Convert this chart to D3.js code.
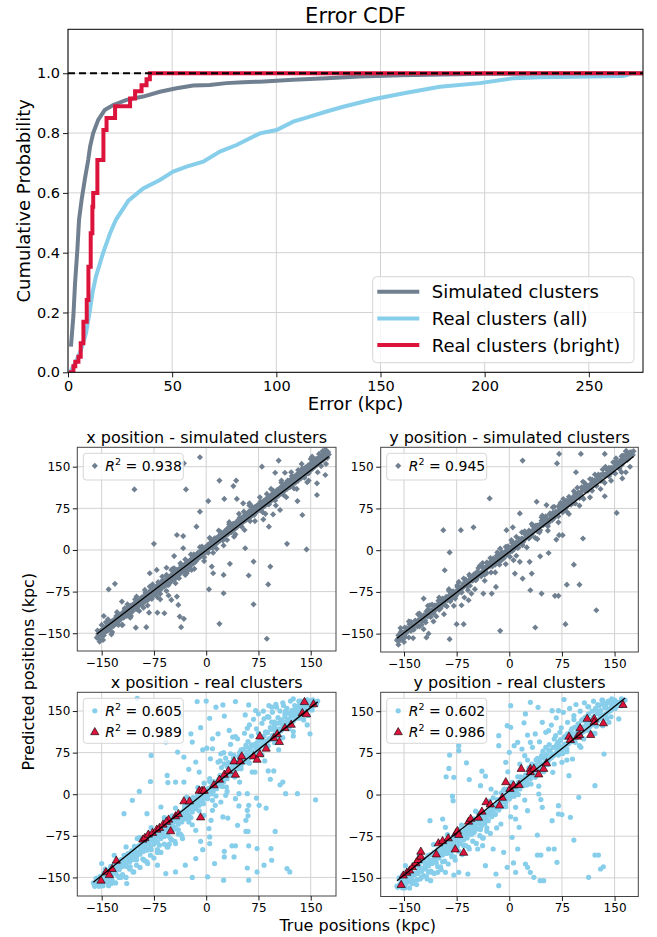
<!DOCTYPE html>
<html>
<head>
<meta charset="utf-8">
<script src="https://cdn.jsdelivr.net/npm/d3@7"></script>
<style>
body { margin: 0; background: #fff; }
text { font-family: "DejaVu Sans", sans-serif; fill: #000; }
</style>
</head>
<body>
<svg id="fig" width="657" height="937"></svg>
<script>
// ---- data ----
const cdfTicksX = [0, 50, 100, 150, 200, 250];
const cdfTicksY = [0, 0.2, 0.4, 0.6, 0.8, 1.0];
const seriesNames = ["Simulated clusters", "Real clusters (all)", "Real clusters (bright)"];

// [error kpc, cumulative probability]
const simCdf = [[1.4, 0.086], [2.6, 0.19], [3.4, 0.30], [4.5, 0.41], [5.3, 0.51], [6.6, 0.58],
  [8.2, 0.65], [9.7, 0.71], [10.6, 0.755], [12.1, 0.80], [14.5, 0.844], [17.6, 0.877],
  [21.7, 0.894], [28.1, 0.911], [36.1, 0.922], [44.1, 0.938], [52.1, 0.95], [60.1, 0.959],
  [68, 0.961], [76, 0.967], [84, 0.97], [92, 0.972], [100, 0.975], [108, 0.978], [124, 0.983],
  [140, 0.989], [160, 0.993], [180, 0.996], [200, 0.998], [230, 0.999], [255, 1.0], [276, 1.0]];
const allCdf = [[1, 0], [3.4, 0.03], [6, 0.07], [8.6, 0.13], [10.6, 0.21], [11.7, 0.264],
  [13.4, 0.32], [16.9, 0.40], [20.2, 0.465], [23, 0.51], [29, 0.574], [36.1, 0.615],
  [44.1, 0.643], [50.5, 0.671], [56.9, 0.688], [64.9, 0.704], [72.9, 0.738], [80.9, 0.76],
  [92.1, 0.799], [100.1, 0.81], [108.1, 0.838], [116.1, 0.855], [124.1, 0.872], [132.1, 0.888],
  [146.5, 0.913], [162.5, 0.935], [178.5, 0.955], [197.7, 0.967], [213.7, 0.983], [226.5, 0.987],
  [266.5, 0.991], [271, 1.0], [276, 1.0]];
const brightCdf = [[0.5, 0], [2.6, 0.02], [3.5, 0.035], [5, 0.052], [6.1, 0.097], [7.4, 0.169],
  [9, 0.242], [9.8, 0.353], [10.9, 0.465], [11.7, 0.554], [12.1, 0.60], [14.1, 0.71], [17, 0.81],
  [18.5, 0.85], [22.6, 0.89], [29.8, 0.916], [32.2, 0.94], [35.3, 0.96], [37.7, 0.98],
  [39.3, 1.0], [276, 1.0]];

const posTicks = [-150, -75, 0, 75, 150];

// [true, predicted] kpc
const simXBand = [[-157,-158],[-155,-151],[-154,-160],[-152,-146],[-150,-154],[-149,-143],[-147,-150],[-145,-139],[-144,-147],[-142,-136],[-140,-144],[-139,-131],[-137,-140],[-135,-128],[-133,-137],[-131,-124],[-130,-133],[-128,-119],[-126,-129],[-124,-117],[-122,-124],[-120,-113],[-118,-121],[-117,-108],[-115,-117],[-112,-105],[-110,-114],[-108,-100],[-106,-111],[-104,-97],[-101,-106],[-99,-93],[-97,-101],[-95,-89],[-93,-98],[-91,-85],[-89,-94],[-87,-80],[-85,-91],[-83,-77],[-81,-87],[-79,-72],[-77,-83],[-75,-70],[-73,-79],[-71,-65],[-69,-75],[-67,-62],[-65,-71],[-62,-57],[-60,-66],[-58,-53],[-56,-63],[-54,-49],[-52,-59],[-50,-45],[-48,-54],[-46,-41],[-44,-51],[-42,-37],[-40,-46],[-38,-33],[-36,-41],[-34,-29],[-32,-38],[-30,-25],[-28,-33],[-26,-21],[-24,-30],[-22,-17],[-20,-25],[-18,-12],[-16,-21],[-14,-9],[-12,-16],[-10,-4],[-8,-12],[-6,0],[-4,-8],[-2,4],[0,-3],[2,9],[4,2],[6,13],[8,5],[10,17],[12,9],[14,21],[16,14],[18,25],[20,17],[22,30],[24,21],[26,33],[28,26],[30,38],[32,29],[34,42],[36,33],[38,46],[40,37],[42,49],[44,41],[46,54],[48,45],[50,57],[52,49],[54,61],[56,53],[58,65],[60,56],[62,70],[64,60],[66,73],[68,64],[70,77],[72,68],[74,81],[76,72],[78,84],[80,75],[82,88],[84,79],[86,92],[88,83],[90,96],[92,87],[94,100],[96,91],[98,104],[100,94],[102,108],[104,98],[106,112],[108,102],[110,116],[112,106],[114,120],[116,110],[118,124],[120,114],[122,128],[124,118],[126,132],[128,121],[130,136],[132,125],[134,140],[136,129],[138,144],[140,133],[142,148],[144,137],[146,152],[148,141],[150,156],[152,146],[154,160],[156,150],[158,164],[160,154],[162,167],[164,158],[166,171],[168,162],[170,174],[172,167],[174,177],[176,172],
  [-150,-135],[-148,-162],[-141,-125],[-136,-152],[-128,-112],[-121,-135],[-113,-98],[-109,-122],[-100,-84],[-96,-110],[-88,-72],[-84,-100],[-77,-62],[-70,-85],[-63,-48],[-57,-74],[-50,-36],[-44,-60],[-37,-24],[-30,-45],[-22,-8],[-17,-34],[-9,5],[-3,-20],[5,22],[10,-5],[18,35],[25,8],[33,50],[40,24],[47,65],[55,36],[62,80],[70,52],[77,95],[85,65],[93,110],[100,80],[108,125],[115,95],[122,140],[130,110],[137,155],[145,122],[152,168],[160,140],[167,178],[172,155]];
const simXCore = [[-155,-155],[-152,-150],[-149,-151],[-146,-145],[-143,-146],[-140,-137],[-137,-138],[-134,-132],[-131,-131],[-128,-130],[-125,-124],[-122,-119],[-119,-122],[-116,-116],[-113,-111],[-110,-111],[-107,-104],[-104,-104],[-101,-103],[-98,-97],[-95,-92],[-92,-95],[-89,-89],[-86,-84],[-83,-84],[-80,-77],[-77,-77],[-74,-76],[-71,-70],[-68,-65],[-65,-68],[-62,-62],[-59,-57],[-56,-57],[-53,-50],[-50,-50],[-47,-49],[-44,-43],[-41,-38],[-38,-41],[-35,-35],[-32,-30],[-29,-30],[-26,-23],[-23,-23],[-20,-22],[-17,-16],[-14,-11],[-11,-14],[-8,-8],[-5,-3],[-2,-3],[1,4],[4,4],[7,5],[10,11],[13,16],[16,13],[19,19],[22,24],[25,24],[28,31],[31,31],[34,32],[37,38],[40,43],[43,40],[46,46],[49,51],[52,51],[55,58],[58,58],[61,59],[64,65],[67,70],[70,67],[73,73],[76,78],[79,78],[82,85],[85,85],[88,86],[91,92],[94,97],[97,94],[100,100],[103,105],[106,105],[109,112],[112,112],[115,113],[118,119],[121,124],[124,121],[127,127],[130,132],[133,132],[136,139],[139,139],[142,140],[145,146],[148,151],[151,148],[154,154],[157,159],[160,159],[163,166],[166,166],[169,167],[172,173],[175,176]];
const simXSpread = [[-156,-145],[-153,-165],[-150,-146],[-147,-154],[-144,-130],[-141,-144],[-138,-130],[-135,-148],[-132,-130],[-129,-119],[-126,-135],[-123,-117],[-120,-135],[-117,-105],[-114,-119],[-111,-102],[-108,-119],[-105,-102],[-102,-89],[-99,-107],[-96,-97],[-93,-86],[-90,-104],[-87,-77],[-84,-90],[-81,-66],[-78,-88],[-75,-70],[-72,-74],[-69,-58],[-66,-79],[-63,-55],[-60,-64],[-57,-45],[-54,-63],[-51,-50],[-48,-34],[-45,-52],[-42,-36],[-39,-51],[-36,-27],[-33,-36],[-30,-17],[-27,-38],[-24,-20],[-21,-36],[-18,-8],[-15,-21],[-12,-5],[-9,-10],[-6,6],[-3,-13],[0,3],[3,-5],[6,20],[9,4],[12,21],[15,2],[18,20],[21,32],[24,17],[27,33],[30,18],[33,46],[36,32],[39,47],[42,28],[45,46],[48,58],[51,42],[54,69],[57,54],[60,65],[63,52],[66,78],[69,63],[72,79],[75,73],[78,87],[81,68],[84,88],[87,101],[90,82],[93,92],[96,107],[99,89],[102,108],[105,100],[108,121],[111,99],[114,117],[117,125],[120,113],[123,133],[126,111],[129,131],[132,144],[135,131],[138,147],[141,130],[144,149],[147,138],[150,164],[153,147],[156,163],[159,156],[162,173],[165,151],[168,169],[171,181],[174,166]];
const simXOut = [[-9,167],[-32,156],[-103,109],[-29,109],[19,125],[43,125],[39,115],[3,88],[26,92],[44,92],[53,84],[62,84],[-9,69],[-14,42],[-42,27],[-33,25],[-75,11],[-46,-11],[-33,3],[80,150],[99,139],[104,161],[113,139],[147,125],[159,120],[171,135],[159,99],[131,88],[96,64],[106,72],[82,55],[90,42],[138,63],[116,11],[144,1],[56,3],[68,-21],[61,-46],[92,-30],[34,-25],[25,-45],[4,-71],[25,-78],[19,-133],[68,-98],[89,-62],[87,-160],[-140,-71],[-131,-61],[-121,-93],[-147,-119],[-101,-140],[-86,-139],[-82,-113],[-70,-113],[-66,-89],[-60,-114],[-54,-82],[-50,-90],[-40,-99],[-38,-120],[-32,-124],[-36,-139],[-42,-84],[-49,-53],[-46,-33],[-28,-42],[-81,-42],[-71,-36],[-57,-32],[8,-30],[10,-42],[-18,-24]];

const simYBand = [[-160,-162],[-158,-153],[-156,-162],[-154,-146],[-152,-155],[-150,-148],[-148,-156],[-146,-140],[-144,-145],[-142,-133],[-140,-145],[-138,-135],[-136,-143],[-134,-127],[-132,-134],[-130,-126],[-128,-137],[-126,-120],[-124,-128],[-122,-121],[-120,-126],[-118,-110],[-116,-119],[-114,-109],[-112,-120],[-110,-108],[-108,-113],[-106,-99],[-104,-105],[-102,-98],[-100,-107],[-98,-89],[-96,-100],[-94,-92],[-92,-98],[-90,-84],[-88,-90],[-86,-82],[-84,-92],[-82,-75],[-80,-83],[-78,-77],[-76,-82],[-74,-66],[-72,-76],[-70,-67],[-68,-75],[-66,-61],[-64,-65],[-62,-53],[-60,-65],[-58,-56],[-56,-64],[-54,-48],[-52,-54],[-50,-46],[-48,-54],[-46,-39],[-44,-47],[-42,-41],[-40,-47],[-38,-30],[-36,-40],[-34,-31],[-32,-41],[-30,-25],[-28,-29],[-26,-20],[-24,-29],[-22,-20],[-20,-26],[-18,-10],[-16,-19],[-14,-10],[-12,-19],[-10,-4],[-8,-10],[-6,-3],[-4,-9],[-2,7],[0,-4],[2,4],[4,-2],[6,13],[8,7],[10,14],[12,4],[14,20],[16,13],[18,20],[20,15],[22,30],[24,22],[26,31],[28,21],[30,33],[32,28],[34,43],[36,35],[38,44],[40,34],[42,44],[44,36],[46,53],[48,45],[50,54],[52,47],[54,55],[56,49],[58,66],[60,58],[62,67],[64,58],[66,69],[68,64],[70,79],[72,71],[74,80],[76,68],[78,80],[80,75],[82,89],[84,81],[86,90],[88,82],[90,91],[92,85],[94,102],[96,94],[98,103],[100,96],[102,105],[104,95],[106,112],[108,107],[110,117],[112,107],[114,116],[116,110],[118,127],[120,117],[122,126],[124,116],[126,132],[128,126],[130,135],[132,125],[134,137],[136,132],[138,146],[140,139],[142,148],[144,138],[146,148],[148,140],[150,157],[152,149],[154,158],[156,151],[158,159],[160,153],[162,170],[164,162],[166,171],[168,162],[170,173],[172,168],[174,176],[176,171],
  [-155,-140],[-150,-165],[-143,-128],[-137,-158],[-130,-115],[-122,-142],[-116,-100],[-108,-128],[-100,-85],[-93,-115],[-86,-70],[-79,-100],[-72,-57],[-64,-85],[-57,-44],[-49,-70],[-42,-28],[-35,-55],[-27,-14],[-20,-40],[-13,3],[-5,-25],[3,18],[10,-10],[18,32],[25,5],[32,47],[40,20],[47,62],[55,35],[62,77],[70,50],[77,92],[85,65],[92,106],[100,80],[107,121],[115,95],[122,136],[130,110],[137,150],[145,125],[152,165],[160,140],[167,178],[172,150]];
const simYCore = [[-159,-160],[-156,-154],[-153,-155],[-150,-150],[-147,-149],[-144,-141],[-141,-142],[-138,-137],[-135,-135],[-132,-134],[-129,-127],[-126,-124],[-123,-125],[-120,-119],[-117,-114],[-114,-115],[-111,-108],[-108,-108],[-105,-107],[-102,-100],[-99,-96],[-96,-98],[-93,-93],[-90,-87],[-87,-88],[-84,-81],[-81,-81],[-78,-80],[-75,-73],[-72,-69],[-69,-71],[-66,-66],[-63,-60],[-60,-61],[-57,-54],[-54,-54],[-51,-53],[-48,-46],[-45,-42],[-42,-44],[-39,-39],[-36,-33],[-33,-34],[-30,-27],[-27,-27],[-24,-26],[-21,-19],[-18,-15],[-15,-17],[-12,-12],[-9,-6],[-6,-7],[-3,0],[0,0],[3,1],[6,8],[9,12],[12,10],[15,15],[18,21],[21,20],[24,27],[27,27],[30,28],[33,35],[36,39],[39,37],[42,42],[45,48],[48,47],[51,54],[54,54],[57,55],[60,62],[63,66],[66,64],[69,69],[72,75],[75,74],[78,81],[81,81],[84,82],[87,89],[90,93],[93,91],[96,96],[99,102],[102,101],[105,108],[108,108],[111,109],[114,116],[117,120],[120,118],[123,123],[126,129],[129,128],[132,135],[135,135],[138,136],[141,143],[144,147],[147,145],[150,150],[153,156],[156,155],[159,162],[162,162],[165,163],[168,170],[171,174],[174,172],[177,178]];
const simYSpread = [[-158,-170],[-155,-149],[-152,-160],[-149,-139],[-146,-145],[-143,-157],[-140,-129],[-137,-140],[-134,-127],[-131,-137],[-128,-114],[-125,-134],[-122,-117],[-119,-130],[-116,-107],[-113,-117],[-110,-98],[-107,-105],[-104,-119],[-101,-91],[-98,-105],[-95,-87],[-92,-89],[-89,-101],[-86,-73],[-83,-88],[-80,-74],[-77,-87],[-74,-63],[-71,-72],[-68,-76],[-65,-51],[-62,-58],[-59,-72],[-56,-47],[-53,-55],[-50,-43],[-47,-53],[-44,-32],[-41,-44],[-38,-23],[-35,-44],[-32,-22],[-29,-28],[-26,-40],[-23,-15],[-20,-24],[-17,-4],[-14,-26],[-11,-5],[-8,-15],[-5,6],[-2,0],[1,-12],[4,13],[7,2],[10,24],[13,5],[16,19],[19,9],[22,34],[25,24],[28,35],[31,25],[34,44],[37,22],[40,44],[43,32],[46,59],[49,46],[52,61],[55,43],[58,64],[61,54],[64,78],[67,68],[70,61],[73,85],[76,72],[79,87],[82,69],[85,96],[88,86],[91,96],[94,84],[97,112],[100,94],[103,113],[106,92],[109,116],[112,111],[115,128],[118,107],[121,124],[124,116],[127,136],[130,125],[133,145],[136,121],[139,145],[142,133],[145,147],[148,158],[151,138],[154,157],[157,146],[160,169],[163,158],[166,178],[169,163],[172,176],[175,172]];
const simYOut = [[19,161],[71,173],[68,156],[102,173],[136,173],[95,140],[105,123],[161,129],[166,140],[136,97],[153,67],[105,21],[-28,93],[15,66],[39,87],[53,81],[-4,36],[5,41],[-94,36],[-69,36],[-51,41],[-85,-4],[-92,-36],[6,-18],[15,-21],[29,-21],[44,-11],[56,-5],[71,27],[76,27],[67,19],[32,-42],[8,-42],[19,-51],[30,-72],[46,-78],[70,-82],[65,-82],[82,-62],[100,-62],[92,-26],[124,-108],[80,-133],[37,-139],[-13,-145],[-85,-160],[-118,-157],[-115,-150],[-75,-133],[-65,-133],[-122,-87],[-113,-99],[-68,-99],[-58,-90],[-54,-78],[-82,-87],[-37,-78],[-25,-78],[-19,-66],[-56,-54]];

const realXBand = [[-162,-160],[-158,-152],[-155,-163],[-152,-148],[-150,-158],[-147,-142],[-145,-152],[-142,-138],[-140,-150],[-137,-130],[-135,-145],[-132,-127],[-130,-140],[-127,-121],[-125,-136],[-122,-118],[-120,-130],[-117,-112],[-115,-126],[-112,-107],[-110,-122],[-107,-102],[-105,-118],[-102,-97],[-100,-112],[-97,-93],[-95,-108],[-92,-88],[-90,-103],[-87,-84],[-85,-99],[-82,-79],[-80,-95],[-77,-75],[-75,-90],[-72,-70],[-70,-86],[-67,-66],[-65,-80],[-62,-60],[-60,-76],[-57,-56],[-55,-70],[-52,-50],[-50,-65],[-47,-44],[-45,-60],[-42,-40],[-40,-54],[-37,-34],[-35,-50],[-32,-29],[-30,-44],[-27,-22],[-25,-38],[-22,-18],[-20,-32],[-17,-11],[-15,-26],[-12,-6],[-10,-20],[-7,0],[-5,-12],[-2,5],[0,-6],[3,10],[5,0],[8,15],[10,5],[13,21],[15,10],[18,27],[20,16],[23,33],[25,22],[28,39],[30,28],[33,45],[35,34],[38,51],[40,40],[43,57],[45,46],[48,63],[50,52],[53,69],[55,58],[58,75],[60,63],[63,81],[65,70],[68,87],[70,76],[73,93],[75,82],[78,99],[80,88],[83,105],[85,94],[88,111],[90,100],[93,117],[95,106],[98,123],[100,112],[103,128],[105,118],[108,134],[110,124],[113,140],[115,130],[118,146],[120,136],[123,151],[125,142],[128,156],[130,148],[133,160],[135,152],[138,163],[140,156],[143,166],[145,160],[148,168],[150,162],[153,170],[156,165],[160,168],
  [-150,-125],[-140,-160],[-132,-110],[-123,-150],[-115,-95],[-104,-140],[-96,-78],[-88,-120],[-79,-60],[-70,-105],[-60,-42],[-53,-90],[-44,-25],[-37,-72],[-28,-5],[-20,-55],[-12,12],[-3,-38],[5,28],[13,-20],[22,48],[30,5],[39,65],[48,22],[57,88],[66,40],[75,110],[84,60],[94,130],[104,80],[114,150],[125,105],[136,168],[145,125]];
const realXCore = [[-160,-166],[-157,-160],[-154,-162],[-151,-155],[-148,-156],[-145,-148],[-142,-151],[-139,-143],[-136,-141],[-133,-142],[-130,-134],[-127,-131],[-124,-133],[-121,-126],[-118,-121],[-115,-124],[-112,-116],[-109,-117],[-106,-111],[-103,-108],[-100,-104],[-97,-105],[-94,-98],[-91,-96],[-88,-93],[-85,-89],[-82,-88],[-79,-83],[-76,-82],[-73,-77],[-70,-76],[-67,-71],[-64,-70],[-61,-65],[-58,-62],[-55,-61],[-52,-56],[-49,-54],[-46,-50],[-43,-49],[-40,-44],[-37,-41],[-34,-38],[-31,-35],[-28,-32],[-25,-28],[-22,-25],[-19,-21],[-16,-19],[-13,-14],[-10,-11],[-7,-9],[-4,-4],[-1,-2],[2,3],[5,6],[8,9],[11,14],[14,16],[17,21],[20,24],[23,28],[26,31],[29,35],[32,38],[35,42],[38,45],[41,48],[44,51],[47,54],[50,57],[53,61],[56,63],[59,67],[62,69],[65,73],[68,75],[71,79],[74,81],[77,84],[80,88],[83,90],[86,94],[89,96],[92,100],[95,102],[98,106],[101,108],[104,112],[107,114],[110,118],[113,120],[116,124],[119,126],[122,130],[125,132],[128,136],[131,138],[134,142],[137,144],[140,148],[143,150],[146,153],[149,156],[152,158],[155,161],[158,164]];
const realXSpread = [[-157,-151],[-154,-166],[-151,-154],[-148,-165],[-145,-135],[-142,-154],[-139,-137],[-136,-161],[-133,-138],[-130,-125],[-127,-147],[-124,-124],[-121,-149],[-118,-110],[-115,-130],[-112,-108],[-109,-131],[-106,-110],[-103,-94],[-100,-118],[-97,-106],[-94,-93],[-91,-117],[-88,-83],[-85,-101],[-82,-70],[-79,-100],[-76,-77],[-73,-84],[-70,-64],[-67,-92],[-64,-62],[-61,-74],[-58,-50],[-55,-75],[-52,-59],[-49,-39],[-46,-63],[-43,-43],[-40,-64],[-37,-33],[-34,-46],[-31,-22],[-28,-42],[-25,-20],[-22,-42],[-19,-6],[-16,-24],[-13,-4],[-10,-11],[-7,9],[-4,-17],[-1,3],[2,-8],[5,23],[8,1],[11,23],[14,-3],[17,20],[20,34],[23,14],[26,34],[29,13],[32,57],[35,38],[38,56],[41,31],[44,53],[47,68],[50,46],[53,81],[56,60],[59,74],[62,56],[65,89],[68,68],[71,88],[74,79],[77,97],[80,71],[83,96],[86,112],[89,87],[92,99],[95,117],[98,93],[101,117],[104,105],[107,132],[110,102],[113,125],[116,134],[119,118],[122,143],[125,113],[128,139],[131,155],[134,137],[137,157],[140,134],[143,158],[146,142],[149,168],[152,152],[155,166],[158,162]];
const realXCloud = [[20,60],[25,75],[30,50],[35,90],[40,70],[45,100],[50,80],[55,110],[60,95],[62,125],[65,105],[68,135],[70,90],[72,118],[75,145],[78,100],[80,128],[82,150],[85,112],[88,140],[90,160],[92,120],[95,148],[98,130],[100,162],[103,138],[106,150],[108,128],[110,165],[113,145],[116,155],[118,135],[121,168],[124,150],[127,160],[130,145],[133,168],[136,158],[140,165],[145,170],[28,65],[38,58],[48,75],[58,85],[66,88],
  [-150,-165],[-145,-158],[-140,-165],[-135,-155],[-130,-160],[-125,-150],[-120,-145],[-115,-150],[-110,-135],[-105,-140],[-100,-128],[-95,-132],[-90,-118],[-85,-122],[-80,-110],[-75,-115],[-70,-100],[-65,-105],[-60,-90],[-55,-95],[-50,-82],[-45,-85],[-40,-72],[-35,-75]];
const realXOut = [[-99,173],[-13,167],[-37,141],[-22,109],[-58,94],[-20,94],[-41,76],[-15,58],[-32,67],[-56,34],[-55,21],[-44,22],[-32,22],[-96,5],[-106,-11],[-65,-23],[-27,-20],[5,137],[14,157],[24,161],[42,167],[26,141],[17,109],[33,115],[38,103],[42,104],[9,100],[9,82],[21,73],[35,73],[6,64],[17,58],[26,55],[-8,120],[-5,80],[-10,40],[-25,45],[-3,20],[56,143],[61,161],[71,151],[59,119],[-118,-35],[-85,-35],[-79,70],[-80,23],[0,168],[1,83],
  [83,136],[90,139],[94,157],[101,157],[111,160],[125,172],[156,166],[149,109],
  [47,52],[59,58],[70,40],[89,42],[97,42],[92,27],[106,17],[110,22],[114,1],[131,1],[157,-10],[47,1],[59,1],[28,-2],[42,-8],[9,-11],[21,-14],[47,-21],[61,-20],[72,-7],[76,-20],[86,-25],[59,-29],[60,-39],[57,-47],[9,-29],[24,-41],[31,-43],[45,-56],[57,-67],[60,-67],[99,-67],[7,-47],[4,-62],[5,-77],[5,-89],[37,-93],[42,-93],[61,-93],[73,-98],[93,-98],[26,-103],[26,-113],[40,-113],[94,-119],[83,-128],[12,-125],[59,-133],[73,-140],[116,-134],[120,-140],[2,-149],[25,-155],[61,-155],[-25,-50],[-15,-65],[-34,-80],[-44,-89],[-56,-95],[-51,-80],[-99,-80],[-89,-95],[-84,-125],[-70,-128],[-58,-143],[-44,-140],[-30,-128],[-15,-116],[-114,-161],[-60,-43],[-10,-30],[-5,-100],[-20,-150],[-8,-85]];
const realXBright = [[-151,-156],[-144,-141],[-135,-135],[-129,-120],[-139,-146],[-91,-82],[-88,-79],[-83,-73],[-77,-70],[-71,-64],[-67,-61],[-62,-55],[-54,-46],[-57,-50],[-51,-67],[-44,-40],[-40,-36],[-32,-13],[-24,-13],[-10,6],[-6,6],[-3,6],[-8,-42],[11,16],[19,26],[26,35],[32,42],[42,35],[40,59],[49,59],[51,68],[68,68],[73,62],[77,72],[77,104],[86,82],[97,101],[102,108],[105,94],[113,119],[122,125],[138,146],[144,144],[141,166],[154,162]];

const realYBand = [[-160,-165],[-157,-150],[-155,-160],[-152,-145],[-150,-156],[-147,-140],[-145,-152],[-142,-136],[-140,-148],[-137,-131],[-135,-145],[-132,-127],[-130,-142],[-127,-122],[-125,-138],[-122,-117],[-120,-133],[-117,-113],[-115,-128],[-112,-108],[-110,-124],[-107,-104],[-105,-119],[-102,-99],[-100,-114],[-97,-95],[-95,-109],[-92,-90],[-90,-105],[-87,-86],[-85,-100],[-82,-81],[-80,-96],[-77,-77],[-75,-91],[-72,-72],[-70,-88],[-67,-68],[-65,-82],[-62,-63],[-60,-78],[-57,-58],[-55,-72],[-52,-53],[-50,-68],[-47,-47],[-45,-62],[-42,-42],[-40,-57],[-37,-37],[-35,-52],[-32,-31],[-30,-47],[-27,-25],[-25,-40],[-22,-20],[-20,-35],[-17,-14],[-15,-28],[-12,-8],[-10,-22],[-7,-2],[-5,-15],[-2,4],[0,-8],[3,10],[5,-2],[8,16],[10,4],[13,22],[15,10],[18,28],[20,16],[23,35],[25,22],[28,41],[30,28],[33,47],[35,34],[38,53],[40,40],[43,59],[45,47],[48,66],[50,53],[53,72],[55,60],[58,78],[60,66],[63,85],[65,72],[68,91],[70,79],[73,97],[75,85],[78,103],[80,91],[83,109],[85,97],[88,115],[90,104],[93,121],[95,110],[98,127],[100,116],[103,133],[105,122],[108,139],[110,128],[113,145],[115,134],[118,150],[120,140],[123,155],[125,146],[128,160],[130,151],[133,163],[136,156],[140,166],[145,162],[150,170],[155,166],[160,172],[165,170],
  [-148,-128],[-138,-160],[-128,-108],[-118,-148],[-108,-90],[-98,-130],[-88,-72],[-78,-112],[-68,-55],[-58,-95],[-48,-30],[-38,-78],[-28,-12],[-18,-60],[-8,8],[2,-40],[12,32],[22,-10],[32,55],[42,15],[52,85],[62,40],[72,112],[82,62],[92,135],[102,85],[112,158],[122,110],[132,170],[142,130],[150,160]];
const realYCore = [[-159,-167],[-156,-162],[-153,-163],[-150,-157],[-147,-157],[-144,-150],[-141,-152],[-138,-145],[-135,-142],[-132,-142],[-129,-136],[-126,-133],[-123,-134],[-120,-128],[-117,-123],[-114,-125],[-111,-118],[-108,-118],[-105,-113],[-102,-110],[-99,-106],[-96,-106],[-93,-100],[-90,-98],[-87,-95],[-84,-91],[-81,-89],[-78,-85],[-75,-84],[-72,-79],[-69,-78],[-66,-73],[-63,-72],[-60,-67],[-57,-64],[-54,-62],[-51,-58],[-48,-56],[-45,-52],[-42,-50],[-39,-46],[-36,-43],[-33,-40],[-30,-37],[-27,-33],[-24,-29],[-21,-26],[-18,-22],[-15,-20],[-12,-15],[-9,-12],[-6,-9],[-3,-5],[0,-2],[3,3],[6,7],[9,10],[12,15],[15,17],[18,22],[21,25],[24,29],[27,32],[30,36],[33,39],[36,43],[39,46],[42,49],[45,52],[48,55],[51,58],[54,62],[57,64],[60,68],[63,70],[66,74],[69,76],[72,80],[75,82],[78,85],[81,89],[84,91],[87,95],[90,97],[93,101],[96,103],[99,107],[102,109],[105,113],[108,115],[111,119],[114,121],[117,125],[120,127],[123,131],[126,133],[129,137],[132,139],[135,143],[138,145],[141,149],[144,151],[147,154],[150,157],[153,159],[156,162],[159,165],[162,168]];
const realYSpread = [[-158,-165],[-155,-152],[-152,-161],[-149,-168],[-146,-142],[-143,-157],[-140,-141],[-137,-155],[-134,-126],[-131,-153],[-128,-131],[-125,-149],[-122,-120],[-119,-134],[-116,-110],[-113,-120],[-110,-140],[-107,-104],[-104,-123],[-101,-101],[-98,-104],[-95,-121],[-92,-85],[-89,-106],[-86,-88],[-83,-106],[-80,-76],[-77,-88],[-74,-94],[-71,-63],[-68,-73],[-65,-92],[-62,-60],[-59,-72],[-56,-57],[-53,-71],[-50,-44],[-47,-61],[-44,-34],[-41,-63],[-38,-35],[-35,-44],[-32,-60],[-29,-19],[-26,-31],[-23,-6],[-20,-36],[-17,-9],[-14,-23],[-11,3],[-8,-5],[-5,-22],[-2,10],[1,-6],[4,22],[7,-3],[10,14],[13,0],[16,32],[19,18],[22,31],[25,17],[28,41],[31,19],[34,47],[37,31],[40,65],[43,47],[46,66],[49,41],[52,68],[55,54],[58,80],[61,72],[64,55],[67,87],[70,71],[73,99],[76,74],[79,91],[82,77],[85,109],[88,95],[91,108],[94,94],[97,118],[100,88],[103,116],[106,100],[109,134],[112,116],[115,135],[118,110],[121,137],[124,123],[127,149],[130,141],[133,124],[136,162],[139,137],[142,154],[145,140],[148,165],[151,155],[154,166],[157,164],[160,160]];
const realYCloud = [[15,55],[22,70],[28,48],[33,85],[38,62],[43,95],[48,78],[52,112],[57,90],[60,125],[64,100],[67,138],[70,95],[74,120],[77,148],[80,105],[83,130],[86,155],[89,118],[92,142],[95,162],[98,125],[101,150],[104,135],[107,165],[110,140],[113,158],[117,130],[120,168],[123,152],[126,162],[129,148],[133,170],[137,160],[141,168],[146,172],[26,62],[36,52],[46,70],[56,80],[65,84],
  [-152,-168],[-147,-160],[-142,-168],[-137,-158],[-132,-162],[-127,-152],[-122,-146],[-117,-152],[-112,-138],[-107,-142],[-102,-130],[-97,-135],[-92,-120],[-87,-125],[-82,-112],[-77,-118],[-72,-102],[-67,-108],[-62,-92],[-57,-98],[-52,-84],[-47,-88],[-42,-74],[-37,-78],[-32,-66],[-27,-70]];
const realYOut = [[-3,124],[-15,106],[-15,88],[-72,88],[-72,79],[-61,57],[-86,47],[-79,31],[-57,27],[-39,42],[-34,33],[-81,-3],[-80,-11],[-113,-47],[-95,-44],[-91,-59],[-19,3],[-41,16],[-26,10],[0,76],[-5,58],[-2,41],[-7,10],[-27,-29],[-12,-53],[-50,-44],[-90,32],[-85,71],[2,160],[30,166],[41,157],[61,151],[70,151],[78,171],[23,145],[21,129],[47,130],[56,115],[37,109],[2,121],[26,107],[12,94],[30,94],[18,82],[7,88],[66,106],[71,88],[82,82],
  [-38,-92],[-45,-98],[-23,-98],[-34,-128],[-59,-143],[-72,-140],[-79,-145],[-112,-155],[-115,-140],[-102,-140],[-91,-140],[-3,-131],[-19,-143],[-15,-164],[-8,-104],[90,64],[75,58],[85,34],[135,73],[156,136],[122,16],[99,-5],[42,1],[45,-9],[47,-23],[70,-20],[70,-35],[75,-36],[61,-47],[87,-41],[26,-29],[9,-23],[9,-44],[14,-59],[4,-77],[12,-98],[40,-73],[56,-98],[64,-98],[92,-82],[40,-109],[45,-109],[68,-122],[122,-109],[6,-123],[23,-125],[26,-131],[30,-140],[35,-149],[9,-140],[44,-155],[49,-155],[113,-149],[130,-134],[127,-109],[134,-130]];
const realYBright = [[-154,-163],[-151,-146],[-146,-141],[-142,-137],[-138,-131],[-133,-124],[-130,-118],[-126,-112],[-126,-103],[-104,-108],[-101,-88],[-95,-84],[-87,-79],[-76,-70],[-77,-99],[-74,-66],[-72,-73],[-65,-105],[-58,-49],[-55,-44],[-44,-42],[-39,-31],[-33,-14],[-27,-18],[-14,-20],[-10,-6],[-5,22],[1,10],[6,16],[14,17],[17,46],[30,46],[30,40],[35,46],[42,36],[49,46],[53,56],[85,104],[87,98],[97,104],[100,107],[101,119],[111,136],[116,107],[121,136],[121,130],[134,128],[162,161]];

const r2Sim = ["0.938", "0.945"];
const r2Real = [["0.605", "0.989"], ["0.602", "0.986"]];
const panelTitles = ["x position - simulated clusters", "y position - simulated clusters",
  "x position - real clusters", "y position - real clusters"];

// ---- drawing ----
const colors = { sim: "#708090", all: "#87ceeb", bright: "#dc143c" };
const gridColor = "#d2d2d2";
const svg = d3.select("#fig");

function styleAxis(g, size) {
    g.select(".domain").remove();
    g.selectAll(".tick line").attr("stroke", "#000").attr("stroke-width", 0.9);
    g.selectAll(".tick text").attr("font-size", size).attr("font-family", "DejaVu Sans");
}

// top: error CDF
{
    const x = d3.scaleLinear().domain([0, 276]).range([68, 643]);
    const y = d3.scaleLinear().domain([0, 1.147]).range([372.3, 29.3]);
    const g = svg.append("g");

    g.append("defs").append("clipPath").attr("id", "cdfclip")
        .append("rect").attr("x", 68).attr("y", 29.3).attr("width", 575).attr("height", 343);

    g.append("g").selectAll("line").data(cdfTicksX).join("line")
        .attr("x1", (d) => x(d)).attr("x2", (d) => x(d))
        .attr("y1", y(0)).attr("y2", 29.3)
        .attr("stroke", gridColor).attr("stroke-width", 1);
    g.append("g").selectAll("line").data(cdfTicksY).join("line")
        .attr("y1", (d) => y(d)).attr("y2", (d) => y(d))
        .attr("x1", 68).attr("x2", 643)
        .attr("stroke", gridColor).attr("stroke-width", 1);

    const line = d3.line().x((d) => x(d[0])).y((d) => y(d[1]));
    const lines = g.append("g").attr("clip-path", "url(#cdfclip)");
    lines.append("path").attr("d", line(simCdf)).attr("fill", "none")
        .attr("stroke", colors.sim).attr("stroke-width", 4);
    lines.append("path").attr("d", line(allCdf)).attr("fill", "none")
        .attr("stroke", colors.all).attr("stroke-width", 4);
    lines.append("path").attr("d", line.curve(d3.curveStepAfter)(brightCdf)).attr("fill", "none")
        .attr("stroke", colors.bright).attr("stroke-width", 4);
    lines.append("line").attr("x1", 68).attr("x2", 643).attr("y1", y(1)).attr("y2", y(1))
        .attr("stroke", "#000").attr("stroke-width", 2).attr("stroke-dasharray", "7,4");

    g.append("rect").attr("x", 68).attr("y", 29.3).attr("width", 575).attr("height", 343)
        .attr("fill", "none").attr("stroke", "#000").attr("stroke-width", 1);

    g.append("g").attr("transform", `translate(0,${y(0)})`)
        .call(d3.axisBottom(x).tickValues(cdfTicksX).tickSize(5).tickPadding(3))
        .call(styleAxis, "14.5px");
    g.append("g").attr("transform", "translate(68,0)")
        .call(d3.axisLeft(y).tickValues(cdfTicksY).tickFormat(d3.format(".1f")).tickSize(5).tickPadding(3))
        .call(styleAxis, "14.5px");

    g.append("text").attr("x", 355.5).attr("y", 23).attr("text-anchor", "middle")
        .attr("font-size", "21px").text("Error CDF");
    g.append("text").attr("x", 355.5).attr("y", 410).attr("text-anchor", "middle")
        .attr("font-size", "18px").text("Error (kpc)");
    g.append("text").attr("transform", "translate(30,200.8) rotate(-90)").attr("text-anchor", "middle")
        .attr("font-size", "18px").text("Cumulative Probability");

    const lg = g.append("g").attr("transform", "translate(372.7,276.7)");
    lg.append("rect").attr("width", 261.3).attr("height", 86).attr("rx", 4)
        .attr("fill", "#fff").attr("fill-opacity", 0.8).attr("stroke", "#d6d6d6");
    const lcol = [colors.sim, colors.all, colors.bright];
    seriesNames.forEach((name, i) => {
        const yy = 15 + i * 26.7;
        lg.append("line").attr("x1", 4.6).attr("x2", 46.6).attr("y1", yy).attr("y2", yy)
            .attr("stroke", lcol[i]).attr("stroke-width", 4);
        lg.append("text").attr("x", 59).attr("y", yy + 6.5).attr("font-size", "18px").text(name);
    });
}

// bottom: four scatter panels
const diamond = {
    draw(ctx, size) {
        const r = Math.sqrt(size / 2);
        ctx.moveTo(0, -r); ctx.lineTo(r, 0); ctx.lineTo(0, r); ctx.lineTo(-r, 0); ctx.closePath();
    }
};

function fit(pts) {
    const mx = d3.mean(pts, (d) => d[0]), my = d3.mean(pts, (d) => d[1]);
    const sxy = d3.sum(pts, (d) => (d[0] - mx) * (d[1] - my));
    const sxx = d3.sum(pts, (d) => (d[0] - mx) ** 2);
    const b = sxy / sxx;
    return [b, my - b * mx];
}

function r2Text(sel, value) {
    sel.append("tspan").attr("font-style", "italic").text("R");
    sel.append("tspan").attr("font-size", "9.5px").attr("dy", -6).text("2");
    sel.append("tspan").attr("dy", 6).text(" = " + value);
}

function panel(p) {
    const g = svg.append("g");
    const sx = d3.scaleLinear().domain(p.xd).range([p.left, p.right]);
    const sy = d3.scaleLinear().domain(p.yd).range([p.bottom, p.top]);
    const w = p.right - p.left, h = p.bottom - p.top;
    const clipId = "clip" + p.id;
    g.append("defs").append("clipPath").attr("id", clipId)
        .append("rect").attr("x", p.left).attr("y", p.top).attr("width", w).attr("height", h);

    g.append("g").selectAll("line").data(posTicks).join("line")
        .attr("x1", (d) => sx(d)).attr("x2", (d) => sx(d)).attr("y1", p.top).attr("y2", p.bottom)
        .attr("stroke", gridColor).attr("stroke-width", 1);
    g.append("g").selectAll("line").data(posTicks).join("line")
        .attr("y1", (d) => sy(d)).attr("y2", (d) => sy(d)).attr("x1", p.left).attr("x2", p.right)
        .attr("stroke", gridColor).attr("stroke-width", 1);

    const plot = g.append("g").attr("clip-path", `url(#${clipId})`);
    if (p.sim) {
        plot.append("g").selectAll("path").data(p.sim).join("path")
            .attr("transform", (d) => `translate(${sx(d[0])},${sy(d[1])})`)
            .attr("d", d3.symbol(diamond, 19)()).attr("fill", colors.sim);
    }
    if (p.all) {
        plot.append("g").selectAll("circle").data(p.all).join("circle")
            .attr("cx", (d) => sx(d[0])).attr("cy", (d) => sy(d[1])).attr("r", 2.6)
            .attr("fill", colors.all);
    }
    if (p.bright) {
        plot.append("g").selectAll("path").data(p.bright).join("path")
            .attr("transform", (d) => `translate(${sx(d[0])},${sy(d[1])})`)
            .attr("d", d3.symbol(d3.symbolTriangle, 30)()).attr("fill", colors.bright)
            .attr("stroke", "#000").attr("stroke-width", 0.6);
    }
    const [b, a] = fit(p.fitPts);
    const ext = d3.extent(p.extPts, (d) => d[0]);
    plot.append("line").attr("x1", sx(ext[0])).attr("x2", sx(ext[1]))
        .attr("y1", sy(a + b * ext[0])).attr("y2", sy(a + b * ext[1]))
        .attr("stroke", "#000").attr("stroke-width", 1.3);

    g.append("rect").attr("x", p.left).attr("y", p.top).attr("width", w).attr("height", h)
        .attr("fill", "none").attr("stroke", "#444").attr("stroke-width", 1);

    g.append("g").attr("transform", `translate(0,${p.bottom})`)
        .call(d3.axisBottom(sx).tickValues(posTicks).tickSize(4.5).tickPadding(2.5))
        .call(styleAxis, "12px");
    g.append("g").attr("transform", `translate(${p.left},0)`)
        .call(d3.axisLeft(sy).tickValues(posTicks).tickSize(4.5).tickPadding(2.5))
        .call(styleAxis, "12px");

    g.append("text").attr("x", (p.left + p.right) / 2).attr("y", p.top - 4.5)
        .attr("text-anchor", "middle").attr("font-size", "16px").text(p.title);

    const lg = g.append("g").attr("transform", `translate(${p.left + 6},${p.top + 6})`);
    const rows = p.labels.length;
    lg.append("rect").attr("width", 100).attr("height", rows === 1 ? 26.7 : 45).attr("rx", 3)
        .attr("fill", "#fff").attr("fill-opacity", 0.8).attr("stroke", "#d6d6d6");
    p.labels.forEach((lab, i) => {
        const yy = 12.5 + i * 21.5;
        if (lab.kind === "sim") {
            lg.append("path").attr("transform", `translate(11.5,${yy})`)
                .attr("d", d3.symbol(diamond, 19)()).attr("fill", colors.sim);
        } else if (lab.kind === "all") {
            lg.append("circle").attr("cx", 11.5).attr("cy", yy).attr("r", 2.6).attr("fill", colors.all);
        } else {
            lg.append("path").attr("transform", `translate(11.5,${yy})`)
                .attr("d", d3.symbol(d3.symbolTriangle, 30)()).attr("fill", colors.bright)
                .attr("stroke", "#000").attr("stroke-width", 0.6);
        }
        lg.append("text").attr("x", 22).attr("y", yy + 5).attr("font-size", "14px")
            .call(r2Text, lab.value);
    });
}

const simX = [].concat(simXBand, simXCore, simXSpread, simXOut);
const simY = [].concat(simYBand, simYCore, simYSpread, simYOut);
const realXAll = [].concat(realXBand, realXCore, realXSpread, realXCloud, realXOut);
const realYAll = [].concat(realYBand, realYCore, realYSpread, realYCloud, realYOut);

panel({ id: 1, left: 77.3, right: 336, top: 447.3, bottom: 651, xd: [-185, 186.3], yd: [-182, 184.9],
    sim: simX, fitPts: simX, extPts: simX, title: panelTitles[0],
    labels: [{ kind: "sim", value: r2Sim[0] }] });
panel({ id: 2, left: 380.7, right: 638.3, top: 447.3, bottom: 652, xd: [-183.2, 183.8], yd: [-183, 184.9],
    sim: simY, fitPts: simY, extPts: simY, title: panelTitles[1],
    labels: [{ kind: "sim", value: r2Sim[1] }] });
panel({ id: 3, left: 77.3, right: 336, top: 692.3, bottom: 896, xd: [-185, 186.3], yd: [-183.5, 183.8],
    all: realXAll, bright: realXBright, fitPts: realXBright, extPts: realXAll, title: panelTitles[2],
    labels: [{ kind: "all", value: r2Real[0][0] }, { kind: "bright", value: r2Real[0][1] }] });
panel({ id: 4, left: 380.7, right: 638.3, top: 692.3, bottom: 896.5, xd: [-183.2, 183.8], yd: [-183.5, 184],
    all: realYAll, bright: realYBright, fitPts: realYBright, extPts: realYAll, title: panelTitles[3],
    labels: [{ kind: "all", value: r2Real[1][0] }, { kind: "bright", value: r2Real[1][1] }] });

svg.append("text").attr("transform", "translate(34,671.7) rotate(-90)").attr("text-anchor", "middle")
    .attr("font-size", "16px").text("Predicted positions (kpc)");
svg.append("text").attr("x", 357.7).attr("y", 931).attr("text-anchor", "middle")
    .attr("font-size", "16px").text("True positions (kpc)");
</script>
</body>
</html>
